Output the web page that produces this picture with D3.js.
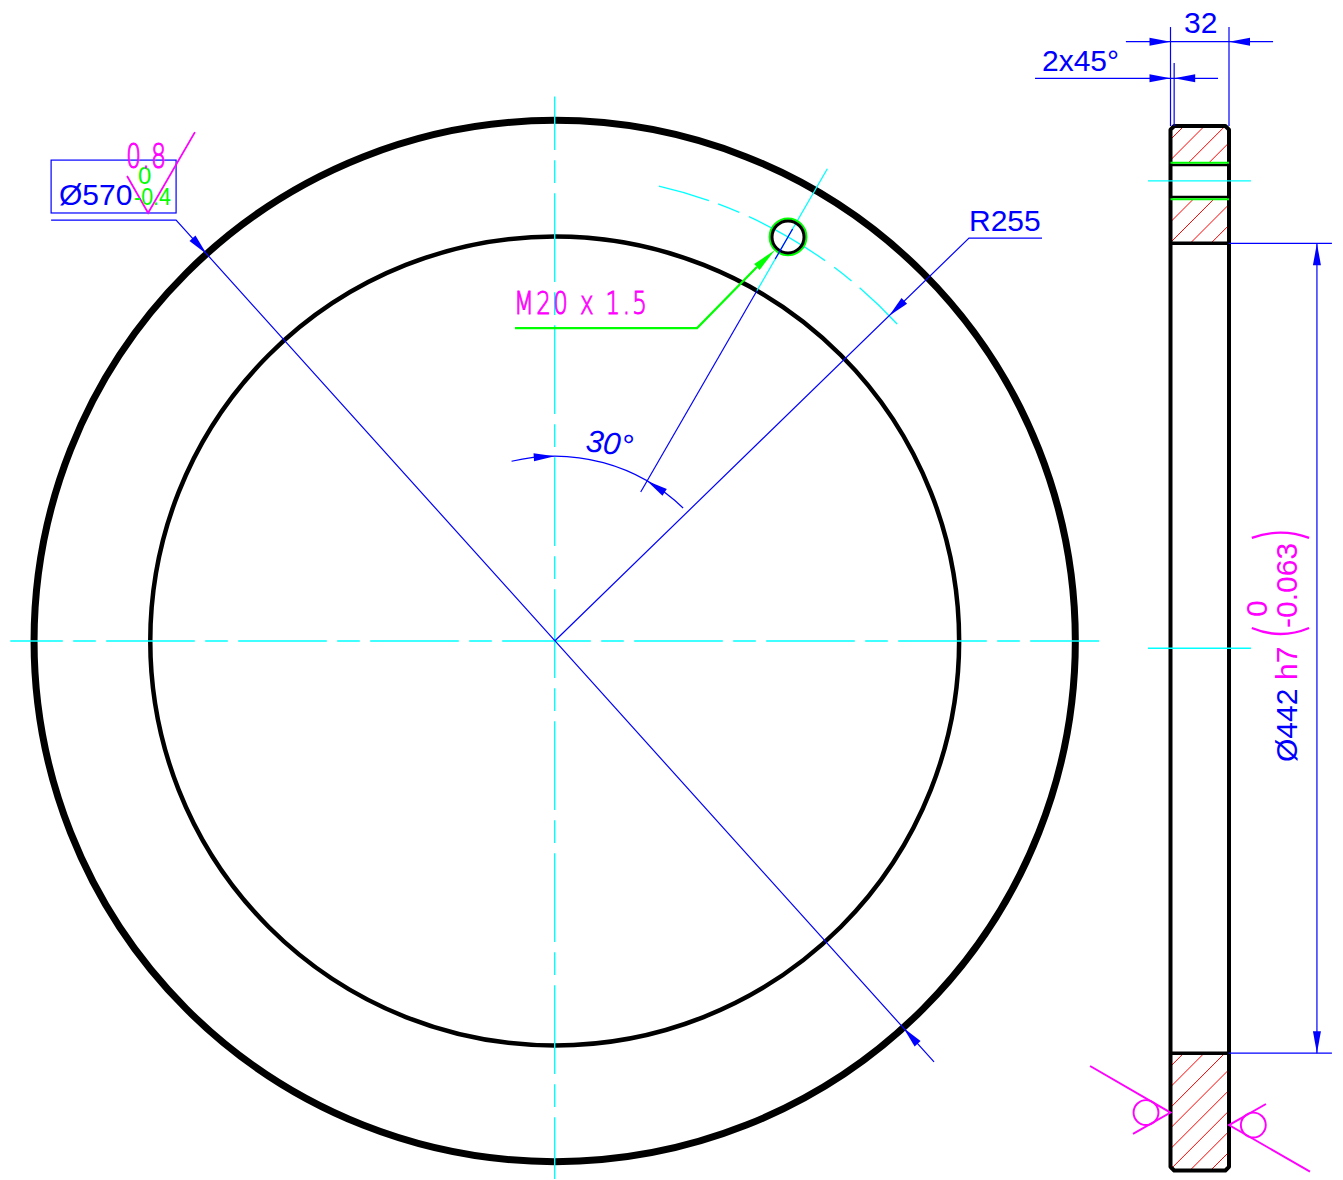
<!DOCTYPE html>
<html lang="en">
<head>
<meta charset="UTF-8">
<title>Ring drawing</title>
<script src="https://d3js.org/d3.v7.min.js"></script>
<style>
    html, body { margin: 0; padding: 0; background: #fff; }
    svg { display: block; }
    text { font-family: "Liberation Sans", Arial, sans-serif; font-size: 30px; fill: #0000ff; }
    .cad { font-family: "DejaVu Sans", sans-serif; font-weight: 200; stroke: #ff00ff; stroke-width: 1; }
</style>
</head>
<body>
<div id="chart"></div>
<script>
// all geometry is in millimetres
var outerRadius = 284.5;
var boreRadius = 221;
var pitchRadius = 255;
var threadRadius = 10;
var drillRadius = 8.75;
var holeAngle = 30;
var ringWidth = 32;
var chamfer = 2;
var halfHeight = 285;

// plan view leaders [x, y]
var diaLeader = [[-275.2, 230.05], [-206.9, 230.05], [207.3, -230.05]];
var radiusLeader = [[266.3, 220.2], [226.4, 220.2], [0, 0]];
var threadLeader = [[-21.7, 171], [77.8, 171], [110.5, 204.4]];
var threadTip = [120.4, 213.7];
var toleranceBox = [[-275.2, 262.8], [-206.9, 233.9]];
var finishMark = [[-233.7, 254.1], [-222.2, 233.9], [-196.6, 278.1]];

// arcs, degrees clockwise from 12 o'clock
var angleDimArc = [-13.5, 44];
var pitchArcDashes = [[12.9, 19.3], [20.5, 23.3], [24.6, 35.4], [36.8, 39.5], [40.8, 47.2]];
var angleDimRadius = 101;

// distance from centre along the 30 degree line
var holeLineBlue = [[94, 221], [241, 260]];
var holeLineCyan = [221, 298];

// side view
var sectionLines = [221, -221];
var holeLines = [pitchRadius + drillRadius, pitchRadius - drillRadius];
var threadLines = [pitchRadius + threadRadius, pitchRadius - threadRadius];
var hatchEdges = [277.6, 266.4, 255.1, 243.9, 232.6, 221.4, 210.2, 198.9, 187.7,
    -228.2, -239.4, -250.7, -261.9, -273.2, -284.4, -295.6, -306.9];
var hatchZones = [[285, 265], [245, 221], [-221, -285]];
var sideCentres = [255, 0];
var sideCentreSpan = [-12.3, 44];
var weldLines = [
    [[-44, -228], [0, -253.4], [-20.5, -265]],
    [[76.3, -285.6], [32, -260.2], [52.2, -248.7]]
];
var weldCircles = [[-13.4, -253.4], [45.3, -260.2]];
var weldRadius = 6.8;
var parens = [
    [[44.5, 60.2], [60.2, 66], [75.8, 60.2]],
    [[44.5, 11.05], [60.2, 4.5], [75.8, 11.05]]
];

var width = 1343, height = 1180;
var blue = "#0000ff", cyan = "#00ffff", magenta = "#ff00ff", green = "#00ff00", red = "#ff0000";

var planX = d3.scaleLinear().domain([-297.5, 297.5]).range([10.3, 1099.1]);
var planY = d3.scaleLinear().domain([-297.5, 297.5]).range([1185.4, 96.6]);
var planLen = d3.scaleLinear().domain([0, 285]).range([0, 521.55]);
var sideX = d3.scaleLinear().domain([0, ringWidth]).range([1170.5, 1229]);
var sideY = d3.scaleLinear().domain([halfHeight, -halfHeight]).range([126, 1170.5]);

var svg = d3.select("#chart").append("svg")
    .attr("width", width)
    .attr("height", height)
    .attr("viewBox", [0, 0, width, height]);

var line = d3.line();
var plan = function(p) { return [planX(p[0]), planY(p[1])]; };
var side = function(p) { return [sideX(p[0]), sideY(p[1])]; };
var polar = function(deg, r) {
    var a = deg * Math.PI / 180;
    return [r * Math.sin(a), r * Math.cos(a)];
};

function stroke(points, color, w) {
    return svg.append("path")
        .attr("d", line(points))
        .attr("fill", "none")
        .attr("stroke", color)
        .attr("stroke-width", w);
}

function arrow(tip, tail, color, half) {
    var dx = tail[0] - tip[0], dy = tail[1] - tip[1];
    var len = Math.sqrt(dx * dx + dy * dy);
    var nx = -dy / len * half, ny = dx / len * half;
    svg.append("path")
        .attr("d", line([tip, [tail[0] + nx, tail[1] + ny], [tail[0] - nx, tail[1] - ny]]) + "Z")
        .attr("fill", color);
}

function arcDash(range, r, color, w) {
    svg.append("path")
        .attr("transform", "translate(" + planX(0) + "," + planY(0) + ")")
        .attr("d", d3.arc()({
            innerRadius: planLen(r), outerRadius: planLen(r),
            startAngle: range[0] * Math.PI / 180, endAngle: range[1] * Math.PI / 180
        }))
        .attr("fill", "none")
        .attr("stroke", color)
        .attr("stroke-width", w);
}

function circle(c, r, color, w) {
    svg.append("circle")
        .attr("cx", c[0]).attr("cy", c[1]).attr("r", r)
        .attr("fill", "none")
        .attr("stroke", color)
        .attr("stroke-width", w);
}

function label(str, x, y, color, size, extra) {
    var t = svg.append("text")
        .attr("x", x).attr("y", y)
        .style("fill", color)
        .style("font-size", size + "px")
        .text(str);
    if (extra) extra(t);
    return t;
}

// ---- plan view ----
circle(plan([0, 0]), planLen(outerRadius), "#000", 7);
circle(plan([0, 0]), planLen(boreRadius), "#000", 4.5);

// centre lines
stroke([plan([-297.5, 0]), plan([297.5, 0])], cyan, 1.4)
    .attr("stroke-dasharray", "88.6 10.4 22.6 10.4")
    .attr("stroke-dashoffset", 36.1);
stroke([plan([0, 297.5]), plan([0, -294])], cyan, 1.4)
    .attr("stroke-dasharray", "88.6 10.4 22.6 10.4")
    .attr("stroke-dashoffset", 35.3);
pitchArcDashes.forEach(function(d) { arcDash(d, pitchRadius, cyan, 1.3); });
stroke([plan(polar(holeAngle, holeLineCyan[0])), plan(polar(holeAngle, holeLineCyan[1]))], cyan, 1.3);

// threaded hole
circle(plan(polar(holeAngle, pitchRadius)), planLen(threadRadius), green, 2.2);
circle(plan(polar(holeAngle, pitchRadius)), planLen(drillRadius), "#000", 3);

holeLineBlue.forEach(function(d) {
    stroke([plan(polar(holeAngle, d[0])), plan(polar(holeAngle, d[1]))], blue, 1.2);
});

// 570 diameter
stroke(diaLeader.map(plan), blue, 1.2);
var diaLen = Math.sqrt(diaLeader[1][0] * diaLeader[1][0] + diaLeader[1][1] * diaLeader[1][1]);
[diaLeader[1], diaLeader[2]].forEach(function(end) {
    var at = function(r) { return plan([end[0] / diaLen * r, end[1] / diaLen * r]); };
    arrow(at(outerRadius), at(outerRadius + 11.5), blue, 4);
});

// R255
stroke(radiusLeader.map(plan), blue, 1.2);
var radLen = Math.sqrt(radiusLeader[1][0] * radiusLeader[1][0] + radiusLeader[1][1] * radiusLeader[1][1]);
var radAt = function(r) { return plan([radiusLeader[1][0] / radLen * r, radiusLeader[1][1] / radLen * r]); };
arrow(radAt(pitchRadius), radAt(pitchRadius + 11.5), blue, 4);

// 30 degree dimension
arcDash(angleDimArc, angleDimRadius, blue, 1.2);
arrow(plan(polar(0, angleDimRadius)), plan(polar(-6.5, angleDimRadius)), blue, 4);
arrow(plan(polar(holeAngle, angleDimRadius)), plan(polar(holeAngle + 6.5, angleDimRadius)), blue, 4);

// thread leader
stroke(threadLeader.map(plan), green, 2.2);
arrow(plan(threadTip), plan(threadLeader[2]), green, 4);

// tolerance box and surface finish mark
svg.append("rect")
    .attr("x", planX(toleranceBox[0][0]))
    .attr("y", planY(toleranceBox[0][1]))
    .attr("width", planX(toleranceBox[1][0]) - planX(toleranceBox[0][0]))
    .attr("height", planY(toleranceBox[1][1]) - planY(toleranceBox[0][1]))
    .attr("fill", "none")
    .attr("stroke", blue)
    .attr("stroke-width", 1.2);
stroke(finishMark.map(plan), magenta, 1.8);

// ---- side view ----
var clip = svg.append("defs");
hatchZones.forEach(function(z, i) {
    clip.append("clipPath").attr("id", "hatch" + i).append("rect")
        .attr("x", sideX(0))
        .attr("y", sideY(z[0]))
        .attr("width", sideX(ringWidth) - sideX(0))
        .attr("height", sideY(z[1]) - sideY(z[0]));
    var g = svg.append("g").attr("clip-path", "url(#hatch" + i + ")");
    g.selectAll("line").data(hatchEdges).enter().append("line")
        .attr("x1", sideX(0))
        .attr("y1", function(d) { return sideY(d); })
        .attr("x2", sideX(ringWidth))
        .attr("y2", function(d) { return sideY(d + ringWidth); })
        .attr("stroke", red)
        .attr("stroke-width", 1);
});

var outline = [
    [chamfer, halfHeight], [ringWidth - chamfer, halfHeight], [ringWidth, halfHeight - chamfer],
    [ringWidth, -halfHeight + chamfer], [ringWidth - chamfer, -halfHeight], [chamfer, -halfHeight],
    [0, -halfHeight + chamfer], [0, halfHeight - chamfer]
];
svg.append("path")
    .attr("d", line(outline.map(side)) + "Z")
    .attr("fill", "none")
    .attr("stroke", "#000")
    .attr("stroke-width", 4)
    .attr("stroke-linejoin", "round");
sectionLines.forEach(function(y) {
    stroke([side([0, y]), side([ringWidth, y])], "#000", 3.4);
});
holeLines.forEach(function(y) {
    stroke([side([0, y]), side([ringWidth, y])], "#000", 2.4);
});
threadLines.forEach(function(y) {
    stroke([side([0, y]), side([ringWidth, y])], green, 2);
});
sideCentres.forEach(function(y) {
    stroke([side([sideCentreSpan[0], y]), side([sideCentreSpan[1], y])], cyan, 1.3);
});

// width and chamfer dimensions
stroke([side([0, 339]), side([0, 285])], blue, 1.2);
stroke([side([ringWidth, 339]), side([ringWidth, 285])], blue, 1.2);
stroke([side([chamfer, 319.4]), side([chamfer, 285])], blue, 1.2);
stroke([side([-24.4, 331]), side([56.1, 331])], blue, 1.2);
stroke([side([-74.1, 311]), side([26, 311])], blue, 1.2);
arrow(side([0, 331]), side([-11.5, 331]), blue, 4);
arrow(side([ringWidth, 331]), side([ringWidth + 11.5, 331]), blue, 4);
arrow(side([0, 311]), side([-11.5, 311]), blue, 4);
arrow(side([chamfer, 311]), side([chamfer + 11.5, 311]), blue, 4);

// bore dimension
stroke([side([ringWidth, 221]), side([88.3, 221])], blue, 1.2);
stroke([side([ringWidth, -221]), side([88.3, -221])], blue, 1.2);
stroke([side([80.1, 221]), side([80.1, -221])], blue, 1.2);
arrow(side([80.1, 221]), side([80.1, 209]), blue, 4);
arrow(side([80.1, -221]), side([80.1, -209]), blue, 4);

parens.forEach(function(p) {
    var a = side(p[0]), c = side(p[1]), b = side(p[2]);
    var path = d3.path();
    path.moveTo(a[0], a[1]);
    path.quadraticCurveTo(c[0], c[1], b[0], b[1]);
    svg.append("path").attr("d", path.toString())
        .attr("fill", "none").attr("stroke", magenta).attr("stroke-width", 2.4);
});

// weld symbols
weldLines.forEach(function(w) { stroke(w.map(side), magenta, 1.9); });
weldCircles.forEach(function(c) { circle(side(c), planLen(weldRadius), magenta, 1.9); });

// ---- text ----
// the single stroke CAD font: light face squeezed sideways, then spaced out to length
var squeeze = 0.72;
var narrow = function(len) {
    return function(t) {
        var x = t.attr("x"), y = t.attr("y");
        t.attr("class", "cad")
            .attr("x", 0).attr("y", 0)
            .attr("transform", "translate(" + x + "," + y + ") scale(" + squeeze + ",1)")
            .attr("textLength", len / squeeze)
            .attr("lengthAdjust", "spacing");
    };
};
var fitted = function(len) {
    return function(t) { t.attr("textLength", len).attr("lengthAdjust", "spacingAndGlyphs"); };
};
label("\u00d8570", 59, 205, blue, 30);
label("0", 138, 184, green, 24);
label("-0.4", 134, 205, green, 24, fitted(37));
label("0.8", 126, 168, magenta, 33, narrow(40));
label("R255", 969, 231, blue, 30);
label("M20 x 1.5", 514, 314, magenta, 32, narrow(133));
label("32", 1184, 33, blue, 30);
label("2x45\u00b0", 1042, 71, blue, 30);

var rotated = function(t) {
    var x = t.attr("x"), y = t.attr("y");
    t.attr("transform", "rotate(-90 " + x + " " + y + ")");
};
label("\u00d8442", 1297, 762, blue, 30, rotated);
label("h7", 1297, 680, magenta, 30, rotated);
label("-0.063", 1297, 628, magenta, 30, rotated);
label("0", 1267, 617, magenta, 30, rotated);
label("30\u00b0", 585, 451, blue, 31, function(t) {
    t.style("font-style", "italic").attr("transform", "rotate(7 585 451)");
});
</script>
</body>
</html>
